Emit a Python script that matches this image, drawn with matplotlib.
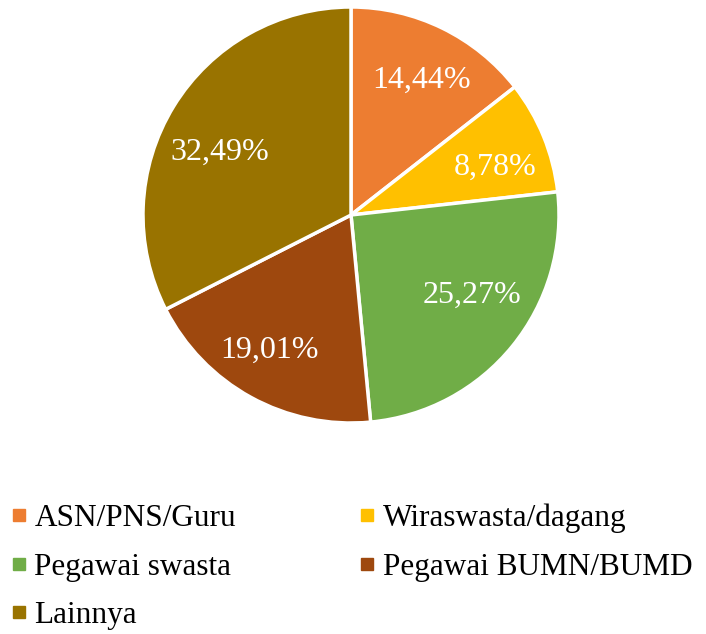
import matplotlib
matplotlib.use("Agg")
import numpy as np
from matplotlib import pyplot as plt
from matplotlib.lines import Line2D

categories = ["ASN/PNS/Guru", "Wiraswasta/dagang", "Pegawai swasta",
              "Pegawai BUMN/BUMD", "Lainnya"]
values = [14.44, 8.78, 25.27, 19.01, 32.49]
colors = ["#ED7D31", "#FFC000", "#70AD47", "#9E480E", "#997300"]

# label placement like the original (distance from centre, angle nudge in degrees)
label_dist = [0.73, 0.73, 0.70, 0.76, 0.70]
label_nudge = [-1.9, -4.1, 5.6, -2.2, 5.8]

plt.rcParams["font.family"] = ["Liberation Serif", "DejaVu Serif"]

fig = plt.figure(figsize=(7.06, 6.34), dpi=100)
ax = fig.add_axes([143 / 706, (634 - 423) / 634, 416 / 706, 416 / 634])

wedges, texts, autotexts = ax.pie(
    values, colors=colors, startangle=90, counterclock=False,
    autopct=lambda p: f"{p:.2f}%".replace(".", ","), pctdistance=0.72,
    wedgeprops=dict(edgecolor="white", linewidth=2.5),
    textprops=dict(color="white", fontsize=23))

for w, t, d, n in zip(wedges, autotexts, label_dist, label_nudge):
    ang = np.deg2rad((w.theta1 + w.theta2) / 2 + n)
    t.set_position((d * np.cos(ang), d * np.sin(ang)))

ax.set_xlim(-1, 1)
ax.set_ylim(-1, 1)
ax.set_aspect("equal")

# legend is filled row by row in the reference, matplotlib fills columns
order = [0, 2, 4, 1, 3]
handles = [Line2D([], [], marker="s", linestyle="none", markersize=9,
                  markerfacecolor=colors[i], markeredgecolor=colors[i]) for i in order]
fig.legend(handles, [categories[i] for i in order], loc="upper left",
           bbox_to_anchor=(0.0, 0.225), ncol=2, frameon=False, fontsize=22.5,
           handlelength=0.4, handletextpad=0.3, columnspacing=4.0,
           labelspacing=0.62, borderaxespad=0)

fig.savefig("out.png", dpi=100)
